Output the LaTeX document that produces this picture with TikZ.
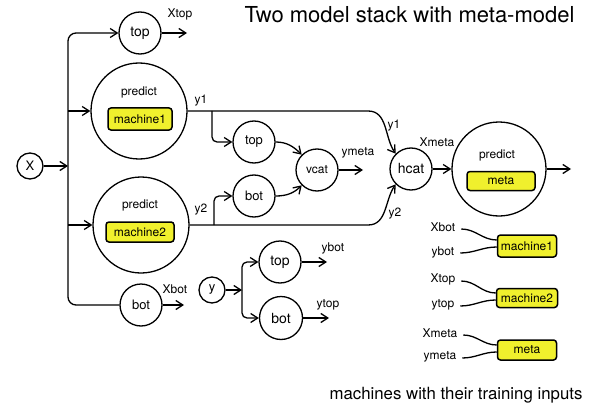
\documentclass[tikz,border=0pt]{standalone}
\usepackage{fontspec}
\setmainfont{TeX Gyre Heros}
\usetikzlibrary{arrows.meta}
\definecolor{hy}{RGB}{240,240,45}
\begin{document}
\begin{tikzpicture}[x=1pt,y=-1pt, line width=1.3pt,
 arr/.style={-{Straight Barb[length=7pt,width=9pt]}},
 circ/.style={draw,circle,inner sep=0pt},
 big/.style={draw,circle,minimum size=96pt,inner sep=0pt},
 ybox/.style={draw,fill=hy,rounded corners=3pt,line width=1.5pt,inner sep=0pt},
 f12/.style={font=\fontsize{12}{14}\selectfont},
 f13/.style={font=\fontsize{13}{15}\selectfont},
 f14/.style={font=\fontsize{14}{16}\selectfont}]
\path[use as bounding box] (0,0) rectangle (591,417);
% title and caption
\node[font=\fontsize{22}{26}\selectfont, anchor=base] (title) at (409.5,23) {Two model stack with meta-model};
\node[font=\fontsize{16.8}{19}\selectfont, anchor=base] (cap) at (456,399) {machines with their training inputs};
% nodes
\node[circ,f13,minimum size=26pt] (X) at (30,166) {X};
\node[circ,f14,minimum size=42pt] (top1) at (140,33) {top};
\node[big] (p1) at (139,111) {};
\node[f12] (pr1) at (139,92) {predict};
\node[ybox,f12,minimum width=64pt,minimum height=22pt] (m1) at (140,119) {machine1};
\node[big] (p2) at (141,225) {};
\node[f12] (pr2) at (140,205) {predict};
\node[ybox,f12,minimum width=68pt,minimum height=20pt] (m2) at (140,232) {machine2};
\node[circ,f13,minimum size=42pt] (bot1) at (141,305) {bot};
\node[circ,f13,minimum size=42pt] (top2) at (254,142) {top};
\node[circ,f13,minimum size=42pt] (bot2) at (254,196) {bot};
\node[circ,f12,minimum size=42pt] (vcat) at (317,170) {vcat};
\node[circ,f14,minimum size=42pt] (hcat) at (411,169) {hcat};
\node[big,minimum size=94pt] (pm) at (499,169) {};
\node[f12] (prm) at (497,155) {predict};
\node[ybox,f12,minimum width=68pt,minimum height=19pt] (mm) at (501,181) {meta};
\node[circ,f13,minimum size=26pt] (y) at (212,290) {y};
\node[circ,f14,minimum size=42pt] (top3) at (280,262) {top};
\node[circ,f14,minimum size=43pt] (bot3) at (281,318) {bot};
% labels
\node[f12] (lXtop) at (180,14) {Xtop};
\node[f12] (lXbot) at (175,289) {Xbot};
\node[f12] (ly1a) at (201,101) {y1};
\node[f12] (ly2a) at (201,210) {y2};
\node[f12] (ly1b) at (394,126) {y1};
\node[f12] (ly2b) at (395,214) {y2};
\node[f12] (lymeta) at (358,153) {ymeta};
\node[f12] (lXmeta) at (437,142) {Xmeta};
\node[f12] (lybot) at (333,248) {ybot};
\node[f12] (lytop) at (328,305) {ytop};
% free ends
\coordinate (tr) at (68,166);
\coordinate (eXtop) at (187,33);
\coordinate (eXbot) at (184,305);
\coordinate (y1bend) at (368,111);
\coordinate (y2bend) at (368,225);
\coordinate (b1) at (212,111);
\coordinate (b2) at (214,225);
\coordinate (eymeta) at (363,170);
\coordinate (eout) at (571,169);
\coordinate (ybr) at (242,290);
\coordinate (eybot) at (327,262);
\coordinate (eytop) at (329,318);
% connectors
\draw[arr, rounded corners=8pt] (bot1.west) -| (tr) |- (top1.west);
\draw[arr] (X.east) -- (X.east -| tr);
\draw[arr] (p1.west -| tr) -- (p1.west);
\draw[arr] (p2.west -| tr) -- (p2.west);
\draw[arr] (top1.east) -- (eXtop);
\draw[arr] (bot1.east) -- (eXbot);
\draw[arr] (p1.east) -- (y1bend) to[out=0,in=125] (hcat.135);
\draw[arr] (p2.east) -- (y2bend) to[out=0,in=-125] (hcat.-135);
\draw[arr, rounded corners=5pt] (b1) |- (top2.west);
\draw[arr, rounded corners=5pt] (b2) |- (bot2.west);
\draw[arr] (top2.east) to[out=0,in=135] (vcat.135);
\draw[arr] (bot2.east) to[out=0,in=-135] (vcat.-135);
\draw[arr] (vcat.east) -- (eymeta);
\draw[arr] (hcat.east) -- (pm.west);
\draw[arr] (pm.east) -- (eout);
\draw[arr] (y.east) -- (ybr);
\draw[arr, rounded corners=5pt] (ybr) |- (top3.west);
\draw[arr, rounded corners=5pt] (ybr) |- (bot3.west);
\draw[arr] (top3.east) -- (eybot);
\draw[arr] (bot3.east) -- (eytop);
% legend
\node[ybox,f12,minimum width=59pt,minimum height=22pt] (lm1) at (527,246) {machine1};
\node[ybox,f12,minimum width=61pt,minimum height=19pt] (lm2) at (527,298) {machine2};
\node[ybox,f12,minimum width=59pt,minimum height=20pt] (lm3) at (527,350) {meta};
\node[f12] (gXbot) at (443,227) {Xbot};
\node[f12] (gybot) at (443,252) {ybot};
\node[f12] (gXtop) at (443,279) {Xtop};
\node[f12] (gytop) at (443,305) {ytop};
\node[f12] (gXmeta) at (440,333) {Xmeta};
\node[f12] (gymeta) at (440,357) {ymeta};
\draw ([xshift=2pt,yshift=-2pt]gXbot.east) to[out=0,in=180] ([yshift=6pt]lm1.west);
\draw ([xshift=2pt,yshift=-1pt]gybot.east) to[out=0,in=180] ([yshift=-1pt]lm1.west);
\draw ([xshift=2pt,yshift=-2pt]gXtop.east) to[out=0,in=180] ([yshift=5pt]lm2.west);
\draw ([xshift=2pt,yshift=-1pt]gytop.east) to[out=0,in=180] ([yshift=-2pt]lm2.west);
\draw ([xshift=2pt,yshift=-2pt]gXmeta.east) to[out=0,in=180] ([yshift=5pt]lm3.west);
\draw ([xshift=2pt,yshift=-1pt]gymeta.east) to[out=0,in=180] ([yshift=-2pt]lm3.west);
\end{tikzpicture}
\end{document}
